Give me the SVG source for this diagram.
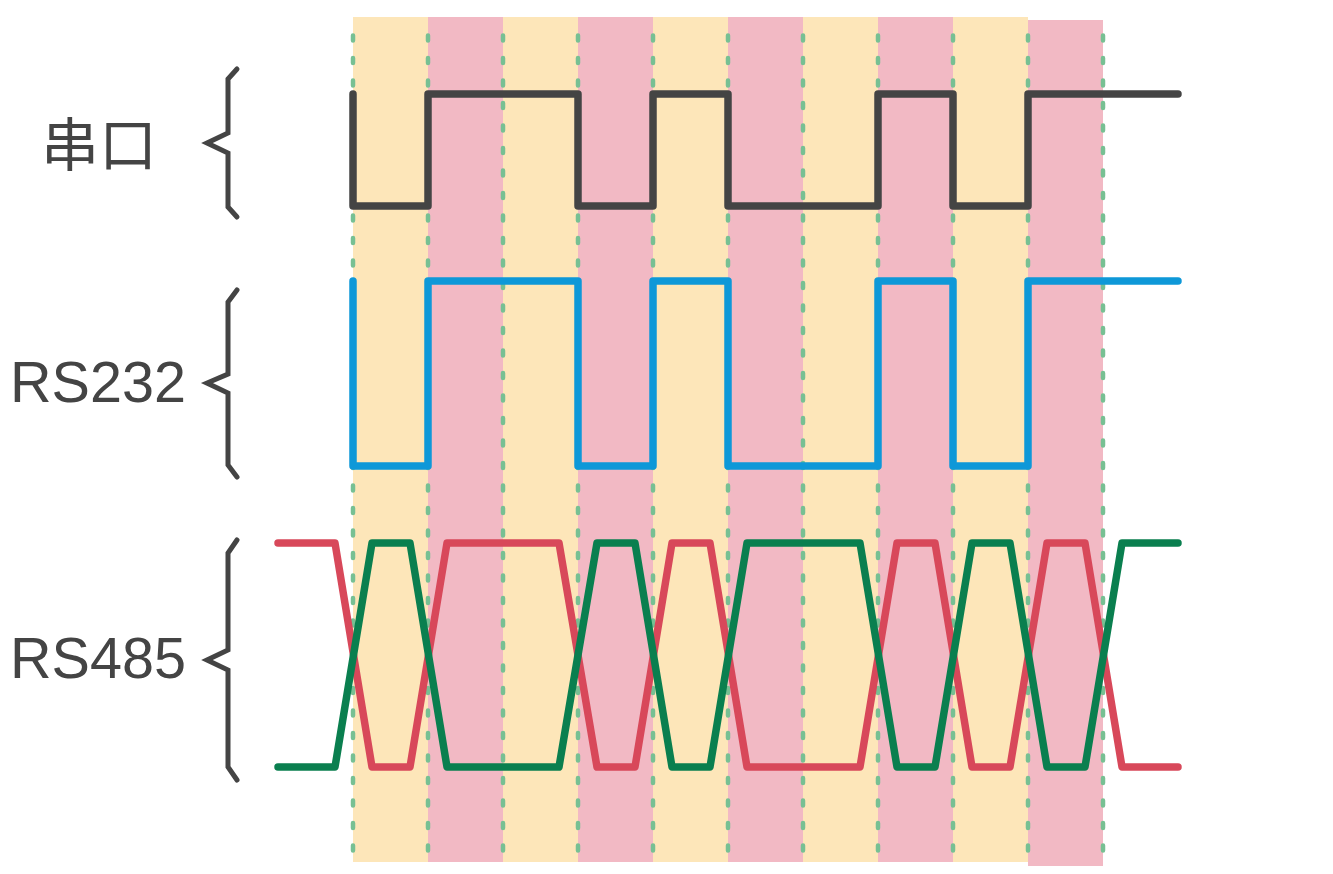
<svg xmlns="http://www.w3.org/2000/svg" width="1333" height="874" viewBox="0 0 1333 874">
<style>
.y{fill:#FDE6B9}
.p{fill:#F2B9C4}
.dot{stroke:#77C093;stroke-width:4.5;stroke-dasharray:5 17.5;stroke-linecap:round;fill:none}
.sig{fill:none;stroke-width:7.5;stroke-linejoin:round;stroke-linecap:round}
.brace{fill:none;stroke:#444444;stroke-width:5;stroke-linejoin:miter;stroke-linecap:round}
.lbl{font-family:"Liberation Sans","Noto Sans",Arial,sans-serif;font-size:58px;fill:#444444}
.cjk{font-family:"Noto Sans CJK SC","Noto Sans CJK JP",sans-serif;font-size:58px;fill:#444444}
</style>
<rect width="1333" height="874" fill="#FFFFFF"/>
<g id="stripes">
<rect class="y" x="353" y="17" width="75" height="845"/>
<rect class="p" x="428" y="17" width="75" height="845"/>
<rect class="y" x="503" y="17" width="75" height="845"/>
<rect class="p" x="578" y="17" width="75" height="845"/>
<rect class="y" x="653" y="17" width="75" height="845"/>
<rect class="p" x="728" y="17" width="75" height="845"/>
<rect class="y" x="803" y="17" width="75" height="845"/>
<rect class="p" x="878" y="17" width="75" height="845"/>
<rect class="y" x="953" y="17" width="75" height="845"/>
<rect class="p" x="1028" y="20" width="75" height="846"/>
</g>
<g id="gridlines">
<path class="dot" d="M353 35.5V851M428 35.5V851M503 35.5V851M578 35.5V851M653 35.5V851M728 35.5V851M803 35.5V851M878 35.5V851M953 35.5V851M1028 35.5V851M1103 35.5V851"/>
</g>
<g id="labels">
<g id="label-serial">
<text class="cjk" x="41" y="166">串口</text>
<path class="brace" d="M237 69L228 79V133L207 143L228 153V207L237 217"/>
</g>
<g id="label-rs232">
<text class="lbl" x="10" y="402" textLength="176" lengthAdjust="spacingAndGlyphs">RS232</text>
<path class="brace" d="M237 290L228 302V374L207 383L228 393V465L237 477"/>
</g>
<g id="label-rs485">
<text class="lbl" x="10" y="678" textLength="176" lengthAdjust="spacingAndGlyphs">RS485</text>
<path class="brace" d="M237 540L228 553V650L207 660L228 670V767L237 780"/>
</g>
</g>
<g id="signals">
<path id="serial" class="sig" stroke="#444444" d="M353 94V206H428V94H578V206H653V94H728V206H878V94H953V206H1028V94H1178"/>
<path id="rs232" class="sig" stroke="#0E98D8" d="M353 281V466H428V281H578V466H653V281H728V466H878V281H953V466H1028V281H1178"/>
<path id="rs485-a" class="sig" stroke="#D8485A" d="M278 543H335L372 767H410L447 543H559L597 767H635L672 543H710L747 767H860L897 543H935L972 767H1010L1047 543H1085L1122 767H1178"/>
<path id="rs485-b" class="sig" stroke="#0A7F4F" d="M278 767H335L372 543H410L447 767H559L597 543H635L672 767H710L747 543H860L897 767H935L972 543H1010L1047 767H1085L1122 543H1178"/>
</g>
</svg>
